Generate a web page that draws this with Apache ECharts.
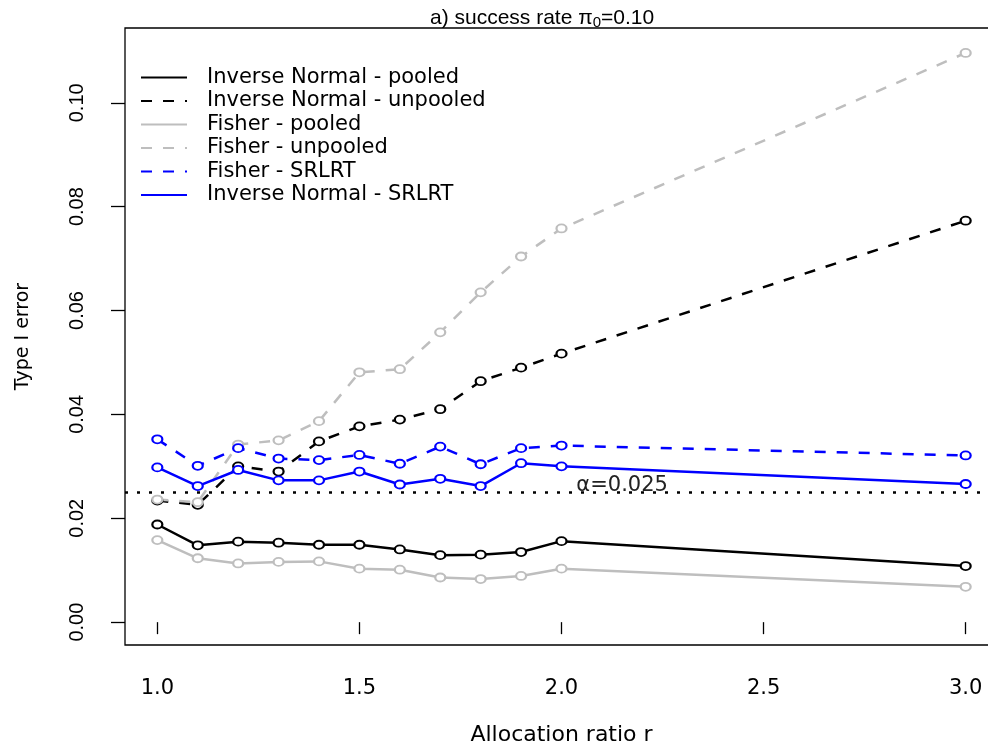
<!DOCTYPE html>
<html>
<head>
<meta charset="utf-8">
<script src="https://cdn.jsdelivr.net/npm/echarts@6/dist/echarts.min.js"></script>
<style>
  html, body { margin: 0; padding: 0; background: #fff; overflow: hidden; }
  #chart { width: 988px; height: 745px; }
</style>
</head>
<body>
<div id="chart"></div>
<script>
  // allocation ratios on the x axis
  var ratios = [1.0, 1.1, 1.2, 1.3, 1.4, 1.5, 1.6, 1.7, 1.8, 1.9, 2.0, 3.0];

  // type I error per method
  var invNormPooled   = [0.0188, 0.0148, 0.0155, 0.0153, 0.0149, 0.0149, 0.0140, 0.0129, 0.0130, 0.0135, 0.0156, 0.0108];
  var invNormUnpooled = [0.0234, 0.0226, 0.0300, 0.0290, 0.0348, 0.0377, 0.0390, 0.0410, 0.0464, 0.0490, 0.0517, 0.0773];
  var fisherPooled    = [0.0158, 0.0123, 0.0113, 0.0116, 0.0117, 0.0103, 0.0101, 0.0086, 0.0083, 0.0089, 0.0103, 0.0068];
  var fisherUnpooled  = [0.0236, 0.0231, 0.0342, 0.0350, 0.0387, 0.0481, 0.0487, 0.0558, 0.0635, 0.0704, 0.0758, 0.1096];
  var fisherSRLRT     = [0.0352, 0.0301, 0.0335, 0.0315, 0.0312, 0.0322, 0.0305, 0.0338, 0.0304, 0.0335, 0.0340, 0.0321];
  var invNormSRLRT    = [0.0298, 0.0262, 0.0293, 0.0273, 0.0273, 0.0290, 0.0265, 0.0276, 0.0262, 0.0306, 0.0300, 0.0266];

  var xTicks = [1.0, 1.5, 2.0, 2.5, 3.0];
  var yTicks = [0.00, 0.02, 0.04, 0.06, 0.08, 0.10];

  var alphaLevel = 0.025;
  var alphaLabelAt = 2.15;

  var BLACK = '#000000', GRAY = '#bebebe', BLUE = '#0000ff';
  var DASH = [11, 11];
  var X_MIN = 0.92, X_MAX = 3.08;

  function pairs(vals) {
    return ratios.map(function (r, i) { return [r, vals[i]]; });
  }

  function lineSeries(name, vals, color, dashed) {
    return {
      name: name,
      type: 'line',
      data: pairs(vals),
      symbol: 'emptyCircle',
      symbolSize: [10, 8],
      showAllSymbol: true,
      animation: false,
      color: color,
      lineStyle: { color: color, width: 2.5, type: dashed ? DASH : 'solid' },
      itemStyle: { color: color, borderColor: color, borderWidth: 2.2 },
      emphasis: { disabled: true }
    };
  }

  var series = [
    lineSeries('Inverse Normal - pooled', invNormPooled, BLACK, false),
    lineSeries('Inverse Normal - unpooled', invNormUnpooled, BLACK, true),
    lineSeries('Fisher - pooled', fisherPooled, GRAY, false),
    lineSeries('Fisher - unpooled', fisherUnpooled, GRAY, true),
    lineSeries('Fisher - SRLRT', fisherSRLRT, BLUE, true),
    lineSeries('Inverse Normal - SRLRT', invNormSRLRT, BLUE, false)
  ];

  // alpha reference line + its label
  series[0].markLine = {
    silent: true,
    animation: false,
    symbol: ['none', 'none'],
    lineStyle: { color: BLACK, type: [3, 9], width: 2.5 },
    label: { show: false },
    data: [[{ coord: [X_MIN, alphaLevel] }, { coord: [X_MAX, alphaLevel] }]]
  };
  series[0].markPoint = {
    silent: true,
    animation: false,
    symbolSize: 1,
    itemStyle: { color: 'rgba(0,0,0,0)' },
    label: {
      show: true, position: 'top', distance: 0, offset: [0, 5],
      formatter: 'α=0.025', fontFamily: 'DejaVu Sans', fontSize: 21, color: '#222'
    },
    data: [{ coord: [alphaLabelAt, alphaLevel] }]
  };

  var chart = echarts.init(document.getElementById('chart'));

  var option = {
    backgroundColor: '#fff',
    animation: false,
    title: {
      text: '{a|a) success rate π}{s|0}{a|=0.10}',
      left: 425,
      top: 1,
      textStyle: {
        fontWeight: 'normal',
        rich: {
          a: { fontFamily: 'Liberation Sans', fontSize: 21, fontWeight: 'normal', color: '#000' },
          s: { fontFamily: 'Liberation Sans', fontSize: 15, fontWeight: 'normal', color: '#000', padding: [9, 0, 0, 0] }
        }
      }
    },
    legend: {
      orient: 'vertical',
      left: 135,
      top: 62,
      itemWidth: 46,
      itemHeight: 14,
      itemGap: 2.5,
      itemStyle: { opacity: 0 },
      selectedMode: false,
      textStyle: { fontFamily: 'DejaVu Sans', fontSize: 21, color: '#000', padding: [0, 0, 0, 15] },
      data: series.map(function (s) { return s.name; })
    },
    grid: {
      left: 125, top: 28, width: 873, height: 617,
      containLabel: false,
      outerBoundsMode: 'none',
      show: true, borderColor: '#000', borderWidth: 1.3, backgroundColor: 'rgba(0,0,0,0)'
    },
    xAxis: {
      type: 'value',
      min: X_MIN, max: X_MAX,
      name: 'Allocation ratio r',
      nameLocation: 'middle',
      nameGap: 79,
      nameTextStyle: { fontFamily: 'DejaVu Sans', fontSize: 22, color: '#000' },
      axisLine: { show: false },
      splitLine: { show: false },
      axisTick: { show: true, length: 12, lineStyle: { color: '#000', width: 1.3 }, customValues: xTicks },
      axisLabel: {
        customValues: xTicks, margin: 33,
        fontFamily: 'DejaVu Sans', fontSize: 21, color: '#000',
        formatter: function (v) { return v.toFixed(1); }
      }
    },
    yAxis: {
      type: 'value',
      min: -0.0044, max: 0.1144,
      name: 'Type I error',
      nameLocation: 'middle',
      nameGap: 92,
      nameTextStyle: { fontFamily: 'DejaVu Sans', fontSize: 19, color: '#000' },
      axisLine: { show: false },
      splitLine: { show: false },
      axisTick: { show: true, length: 14, lineStyle: { color: '#000', width: 1.3 }, customValues: yTicks },
      axisLabel: {
        customValues: yTicks, rotate: 90, margin: 38,
        fontFamily: 'Liberation Sans', fontSize: 20, color: '#000',
        formatter: function (v) { return v.toFixed(2); }
      }
    },
    series: series
  };

  chart.setOption(option);
</script>
</body>
</html>
